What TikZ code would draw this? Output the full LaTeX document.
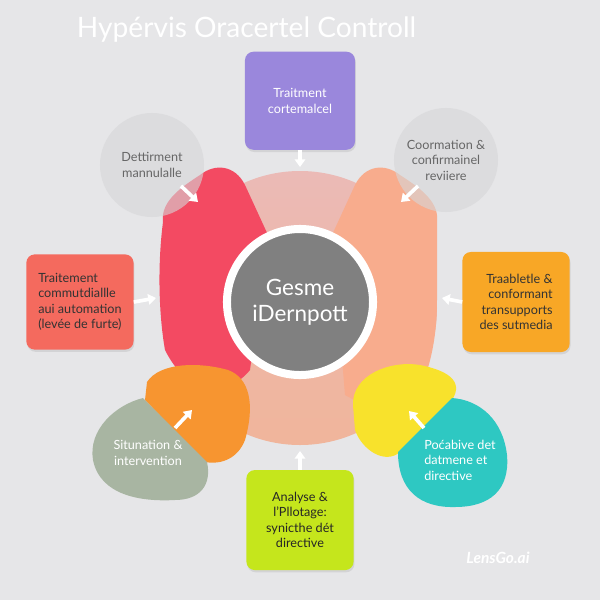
\documentclass[tikz,border=0pt]{standalone}
\usepackage{fontspec}
\setmainfont{Lato}
\usetikzlibrary{positioning,arrows.meta,shadows}
\definecolor{bggray}{HTML}{E6E6E8}
\definecolor{bubblegray}{HTML}{D6D6D8}
\definecolor{hubgray}{HTML}{808080}
\definecolor{ringtop}{HTML}{EBBAB6}
\definecolor{ringbottom}{HTML}{F0B59B}
\definecolor{crimson}{HTML}{F34A62}
\definecolor{peach}{HTML}{F8AC8D}
\definecolor{lavender}{HTML}{9A87DC}
\definecolor{coral}{HTML}{F46A5E}
\definecolor{amber}{HTML}{F8A726}
\definecolor{lime}{HTML}{C5E61C}
\definecolor{tangerine}{HTML}{F79530}
\definecolor{sage}{HTML}{A8B5A2}
\definecolor{lemon}{HTML}{F8E22C}
\definecolor{teal}{HTML}{2EC8C2}

\begin{document}
\begin{tikzpicture}[x=0.025cm, y=-0.025cm, on grid]
\tikzstyle{every node}=[font=\fontsize{9}{11}\selectfont]
\tikzstyle{card}=[rectangle, rounded corners=6pt, minimum width=2.68cm, minimum height=2.45cm, align=center, drop shadow={opacity=0.18, shadow xshift=0.6pt, shadow yshift=-1.6pt}]
\tikzstyle{bubble}=[circle, fill=bubblegray, fill opacity=0.6, text opacity=1, text=black!60, minimum size=2.6cm, align=center]
\tikzstyle{flow}=[draw=white, line width=2.6pt, -{Triangle[width=7.5pt,length=5.5pt]}]
\useasboundingbox (0,0) rectangle (600,600);
\fill[bggray] (0,0) rectangle (600,600);
% ring behind the hub
\shade[top color=ringtop, bottom color=ringbottom] (300,308) circle [radius=137];
\fill[peach] (437,222) .. controls (440,200) and (415,185) .. (400,175) .. controls (385,163) and (365,165) .. (355,185) -- (332,235) -- (345,395) -- (400,425) .. controls (425,390) and (437,350) .. (437,300) -- cycle;
\fill[crimson] (163,222) .. controls (160,200) and (185,185) .. (200,175) .. controls (215,163) and (235,165) .. (245,185) -- (268,235) -- (250,370) .. controls (230,395) and (190,400) .. (165,350) .. controls (158,310) and (158,260) .. (163,222) -- cycle;
% blobs at the bottom
\fill[tangerine] (147,382) .. controls (160,362) and (200,362) .. (228,370) .. controls (250,378) and (255,405) .. (245,440) .. controls (238,458) and (222,465) .. (205,462) -- (145,400) -- cycle;
\fill[sage] (143,398) -- (207,462) .. controls (212,485) and (200,500) .. (175,500) .. controls (140,502) and (100,495) .. (93,460) .. controls (88,430) and (115,405) .. (143,398) -- cycle;
\fill[lemon] (353,405) .. controls (352,375) and (390,360) .. (420,365) .. controls (445,370) and (465,380) .. (452,400) -- (400,452) .. controls (385,465) and (362,450) .. (355,430) -- cycle;
\fill[teal] (452,398) -- (398,452) .. controls (398,490) and (420,508) .. (455,507) .. controls (490,507) and (510,490) .. (507,455) .. controls (503,420) and (480,400) .. (452,398) -- cycle;
% hub and satellites
\node[circle, fill=hubgray, draw=white, line width=5.7pt, minimum size=3.65cm, text=white, align=center, font=\fontsize{16}{18.5}\selectfont] (hub) at (300,302) {Gesme\\iDernpott};
\node[card, fill=lavender, text=white, minimum width=2.75cm](treat)[above=5.03cm of hub]{Traitment\\cortemalcel};
\node[card, fill=coral, text=black!80, align=left, minimum height=2.38cm](manual)[left=5.5cm of hub]{Traitement\\commutdiallle\\aui automation\\(levée de furte)};
\node[card, fill=amber, text=black!80, align=right, minimum height=2.5cm](trace)[right=5.4cm of hub]{Traabletle \&\\conformant\\transupports\\des sutmedia};
\node[card, fill=lime, text=black!85, minimum height=2.5cm](pilot)[below=5.45cm of hub]{Analyse \&\\l'Pllotage:\\synicthe dét\\directive};
\node[bubble](detect) at (152,165) {Dettirment\\mannulalle};
\node[bubble](confirm) at (446,160) {Coormation \&\\confirmainel\\reviiere};
\node[text=white, align=center](situ) at (148,453) {Situnation \&\\intervention};
\node[text=white, align=left](prob) at (460,460) {Poćabive det\\datmene et\\directive};
\node[anchor=west, text=white, font=\fontsize{20}{23}\selectfont](title) at (72,30) {Hypérvis Oracertel Controll};
\node[text=white, font=\bfseries\itshape\fontsize{11}{13}\selectfont](mark) at (498,558) {LensGo.ai};
% arrow ends
\coordinate (topTip) at (300,167);
\coordinate (leftTip) at (156,298);
\coordinate (rightTip) at (442,298);
\coordinate (bottomTip) at (300,451);
\coordinate (nwStart) at (181,186);
\coordinate (nwTip) at (198,202);
\coordinate (neStart) at (418,186);
\coordinate (neTip) at (401,202);
\coordinate (swStart) at (175,428);
\coordinate (swTip) at (192,410);
\coordinate (seStart) at (424,428);
\coordinate (seTip) at (409,411);
\draw[flow](treat.south) -- (topTip);
\draw[flow](manual.east) -- (leftTip);
\draw[flow](trace.west) -- (rightTip);
\draw[flow](pilot.north) -- (bottomTip);
\draw[flow](nwStart) -- (nwTip);
\draw[flow](neStart) -- (neTip);
\draw[flow](swStart) -- (swTip);
\draw[flow](seStart) -- (seTip);
\end{tikzpicture}
\end{document}
